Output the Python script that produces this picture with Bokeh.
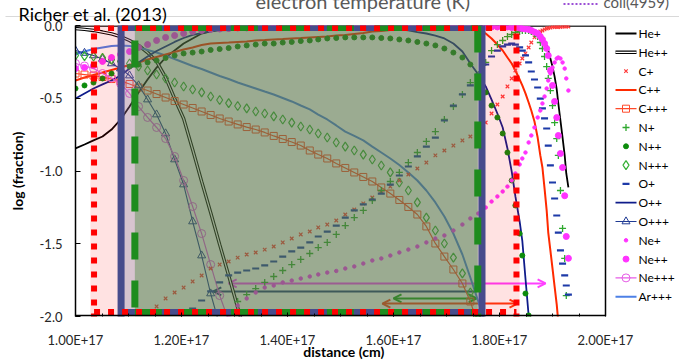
import math, sys
from bokeh.plotting import figure
from bokeh.models import (Range1d, FixedTicker, CustomJSTickFormatter, Arrow, OpenHead,
                          ColumnDataSource)
from bokeh.core.properties import value
from bokeh.embed import file_html
from bokeh.resources import INLINE

nan = float("nan")
FONT = "Lato"

# ---------------- data ----------------
# model zones: distance in units of 1e17 cm
distance_1e17 = [
    1.000, 1.017, 1.034, 1.051, 1.068, 1.085, 1.102, 1.119, 1.136, 1.153,
    1.170, 1.187, 1.204, 1.221, 1.238, 1.255, 1.272, 1.289, 1.306, 1.323,
    1.340, 1.357, 1.374, 1.391, 1.408, 1.425, 1.442, 1.458, 1.475, 1.492,
    1.509, 1.526, 1.543, 1.560, 1.577, 1.594, 1.611, 1.628, 1.645, 1.662,
    1.679, 1.696, 1.713, 1.730, 1.745,
    1.760, 1.774, 1.785, 1.796, 1.806, 1.815, 1.823, 1.830, 1.838, 1.843,
    1.849, 1.855, 1.860, 1.866, 1.872, 1.877, 1.881, 1.885, 1.889, 1.892,
    1.896, 1.900, 1.904, 1.908, 1.911, 1.915, 1.919, 1.923, 1.926, 1.930,
]

he_1 = [
    -0.845, -0.818, -0.790, -0.763, -0.715, -0.646, -0.557, -0.460, -0.371, -0.289,
    -0.220, -0.172, -0.124, -0.089, -0.055, -0.041, -0.027, -0.021, -0.021, -0.021,
    -0.017, -0.014, -0.014, -0.014, -0.014, -0.014, -0.014, -0.014, -0.014, -0.014,
    -0.014, -0.010, -0.010, -0.010, -0.010, -0.010, -0.010, -0.010, -0.010, -0.010,
    -0.010, -0.010, -0.010, -0.010, -0.010,
    -0.007, -0.007, -0.007, -0.007, -0.007, -0.007, -0.010, -0.014, -0.014, -0.021,
    -0.024, -0.027, -0.034, -0.041, -0.055, -0.076, -0.096, -0.117, -0.137, -0.172,
    -0.227, -0.282, -0.351, -0.440, -0.536, -0.653, -0.770, -0.893, -1.017, -1.113,
]
he_2 = [
    -0.021, -0.027, -0.034, -0.045, -0.058, -0.076, -0.103, -0.137, -0.186, -0.247,
    -0.357, -0.502, -0.639, -0.852, -1.072, -1.285, -1.505, -1.718, -1.938, -2.151,
] + [nan] * 55
c_1 = [
    nan, nan, nan, nan, nan, nan, nan, nan, -2.034, -1.931,
    -1.876, -1.835, -1.801, -1.759, -1.718, -1.670, -1.643, -1.622, -1.595, -1.574,
    -1.560, -1.540, -1.519, -1.491, -1.464, -1.436, -1.416, -1.388, -1.368, -1.340,
    -1.299, -1.265, -1.223, -1.182, -1.141, -1.107, -1.065, -1.024, -0.983, -0.942,
    -0.893, -0.859, -0.825, -0.790, -0.763,
    -0.715, -0.667, -0.605, -0.543, -0.488, -0.419, -0.364, -0.309, -0.261, -0.227,
    -0.192, -0.151, -0.117, -0.082, -0.062, -0.041, -0.034, -0.027, -0.021, -0.017,
    -0.014, -0.010, -0.010, -0.010, -0.010, -0.010, -0.007, -0.007, -0.007, -0.007,
]
c_2 = [
    -0.378, -0.357, -0.340, -0.323, -0.306, -0.289, -0.271, -0.254, -0.234, -0.216,
    -0.199, -0.182, -0.165, -0.151, -0.134, -0.124, -0.120, -0.117, -0.113, -0.110,
    -0.103, -0.100, -0.096, -0.093, -0.089, -0.086, -0.082, -0.079, -0.076, -0.069,
    -0.065, -0.058, -0.052, -0.041, -0.038, -0.031, -0.024, -0.021, -0.017, -0.014,
    -0.014, -0.014, -0.010, -0.010, -0.014,
    -0.027, -0.055, -0.089, -0.131, -0.172, -0.220, -0.261, -0.309, -0.371, -0.412,
    -0.467, -0.529, -0.584, -0.660, -0.770, -0.893, -0.976, -1.120, -1.271, -1.423,
    -1.546, -1.670, -1.794, -1.918, -2.041, nan, nan, nan, nan, nan,
]
c_3 = [
    -0.330, -0.337, -0.344, -0.354, -0.368, -0.381, -0.402, -0.426, -0.447, -0.471,
    -0.495, -0.519, -0.543, -0.567, -0.591, -0.615, -0.639, -0.660, -0.680, -0.698,
    -0.715, -0.735, -0.759, -0.780, -0.801, -0.825, -0.859, -0.887, -0.914, -0.948,
    -0.979, -1.010, -1.041, -1.072, -1.113, -1.155, -1.199, -1.247, -1.299, -1.381,
    -1.498, -1.588, -1.677, -1.773, -1.897,
    -2.062,
] + [nan] * 29
n_1 = [nan] * 18 + [
    -1.897, -1.849,
    -1.808, -1.766, -1.725, -1.684, -1.643, -1.608, -1.567, -1.526, -1.491, -1.436,
    -1.375, -1.320, -1.271, -1.203, -1.134, -1.072, -1.010, -0.942, -0.873, -0.797,
    -0.729, -0.646, -0.557, -0.474, -0.392,
    -0.337, -0.254, -0.172, -0.131, -0.103, -0.076, -0.062, -0.048, -0.041, -0.034,
    -0.034, -0.034, -0.041, -0.055, -0.076, -0.117, -0.158, -0.213, -0.282, -0.364,
    -0.447, -0.550, -0.667, -0.777, -0.893, -1.134, -1.395, -1.601, -1.856, -2.027,
]
n_2 = [
    -0.433, -0.412, -0.392, -0.364, -0.330, -0.302, -0.282, -0.268, -0.254, -0.241,
    -0.223, -0.206, -0.192, -0.186, -0.179, -0.168, -0.162, -0.155, -0.144, -0.137,
    -0.131, -0.124, -0.124, -0.117, -0.113, -0.107, -0.103, -0.096, -0.089, -0.086,
    -0.082, -0.082, -0.082, -0.082, -0.086, -0.089, -0.096, -0.103, -0.113, -0.124,
    -0.137, -0.158, -0.186, -0.220, -0.268,
    -0.344, -0.460, -0.550, -0.632, -0.742, -0.873, -1.065, -1.237, -1.430, -1.581,
    -1.842, -1.993,
] + [nan] * 18
n_3 = [
    -0.206, -0.210, -0.213, -0.223, -0.234, -0.247, -0.261, -0.282, -0.309, -0.337,
    -0.364, -0.392, -0.419, -0.440, -0.460, -0.488, -0.512, -0.533, -0.553, -0.570,
    -0.591, -0.605, -0.625, -0.646, -0.667, -0.694, -0.715, -0.742, -0.770, -0.804,
    -0.832, -0.859, -0.887, -0.921, -0.962, -1.010, -1.079, -1.134, -1.216, -1.320,
    -1.409, -1.498, -1.595, -1.704, -1.835,
    -2.014,
] + [nan] * 29
o_1 = [nan] * 13 + [
    -1.945, -1.890, -1.828, -1.766, -1.718, -1.698, -1.684,
    -1.670, -1.649, -1.622, -1.588, -1.553, -1.526, -1.491, -1.450, -1.416, -1.375,
    -1.320, -1.271, -1.230, -1.196, -1.155, -1.093, -1.031, -0.969, -0.900, -0.832,
    -0.770, -0.653, -0.550, -0.474, -0.412,
    -0.337, -0.268, -0.213, -0.172, -0.144, -0.131, -0.124, -0.131, -0.151, -0.172,
    -0.206, -0.254, -0.316, -0.371, -0.426, -0.502, -0.570, -0.639, -0.708, -0.825,
    -0.962, -1.079, -1.189, -1.306, -1.423, -1.546, -1.636, -1.718, -1.787, -1.849,
]
o_2 = [
    -0.502, -0.467, -0.433, -0.405, -0.378, -0.344, -0.296, -0.254, -0.213, -0.175,
    -0.144, -0.113, -0.086, -0.065, -0.052, -0.041, -0.034, -0.031, -0.027, -0.024,
    -0.024, -0.024, -0.024, -0.024, -0.024, -0.024, -0.024, -0.024, -0.024, -0.024,
    -0.024, -0.024, -0.024, -0.024, -0.024, -0.024, -0.027, -0.034, -0.045, -0.055,
    -0.069, -0.089, -0.124, -0.179, -0.261,
    -0.337, -0.419, -0.509, -0.605, -0.701, -0.845, -1.003, -1.175, -1.347, -1.478,
    -1.739, -1.993,
] + [nan] * 18
o_3 = [
    -0.172, -0.189, -0.206, -0.230, -0.261, -0.296, -0.344, -0.412, -0.509, -0.612,
    -0.742, -0.921, -1.093, -1.347, -1.581, -1.842, -2.062,
] + [nan] * 58
ne_1 = [nan] * 17 + [
    -1.973, -1.924, -1.876,
    -1.835, -1.801, -1.787, -1.766, -1.753, -1.739, -1.725, -1.711, -1.698, -1.687,
    -1.670, -1.656, -1.636, -1.615, -1.601, -1.581, -1.560, -1.540, -1.519, -1.491,
    -1.464, -1.443, -1.409, -1.368, -1.326,
    -1.292, -1.251, -1.210, -1.175, -1.141, -1.107, -1.065, -1.017, -0.955, -0.914,
    -0.873, -0.804, -0.756, -0.701, -0.632, -0.584, -0.536, -0.488, -0.433, -0.378,
    -0.330, -0.289, -0.254, -0.227, -0.220, -0.227, -0.254, -0.296, -0.364, -0.447,
]
ne_2 = [
    -0.296, -0.289, -0.275, -0.247, -0.220, -0.199, -0.179, -0.151, -0.131, -0.103,
    -0.082, -0.069, -0.055, -0.041, -0.034, -0.027, -0.024, -0.021, -0.017, -0.017,
    -0.014, -0.014, -0.014, -0.014, -0.014, -0.014, -0.014, -0.014, -0.014, -0.014,
    -0.010, -0.010, -0.010, -0.010, -0.010, -0.010, -0.010, -0.010, -0.010, -0.010,
    -0.010, -0.010, -0.010, -0.010, -0.010,
    -0.010, -0.010, -0.010, -0.010, -0.010, -0.010, -0.014, -0.014, -0.017, -0.021,
    -0.024, -0.027, -0.034, -0.045, -0.055, -0.076, -0.096, -0.124, -0.158, -0.206,
    -0.309, -0.412, -0.522, -0.633, -0.756, -0.880, -0.976, -1.170, -1.450, -1.600,
]
ne_3 = [
    -0.261, -0.278, -0.296, -0.330, -0.361, -0.399, -0.467, -0.557, -0.632, -0.701,
    -0.777, -0.900, -1.065, -1.244, -1.430, -1.643, -1.856, -2.027,
] + [nan] * 57
ar_3 = [
    -0.199, -0.179, -0.162, -0.151, -0.141, -0.137, -0.141, -0.151, -0.168, -0.186,
    -0.206, -0.230, -0.254, -0.278, -0.299, -0.323, -0.347, -0.368, -0.392, -0.412,
    -0.433, -0.454, -0.474, -0.498, -0.522, -0.550, -0.577, -0.612, -0.646, -0.687,
    -0.729, -0.759, -0.790, -0.832, -0.873, -0.914, -0.959, -1.010, -1.065, -1.134,
    -1.216, -1.313, -1.430, -1.574, -1.732,
    -1.897, -2.062,
] + [nan] * 28

species_labels = ["He+", "He++", "C+", "C++", "C+++", "N+", "N++", "N+++",
                  "O+", "O++", "O+++", "Ne+", "Ne++", "Ne+++", "Ar+++"]
x_ticks_1e17 = [1.0, 1.2, 1.4, 1.6, 1.8, 2.0]
y_ticks = [-2.0, -1.5, -1.0, -0.5, 0.0]
x_axis_end_1e17 = 2.0

# zone boundaries marked on the chart (distance in 1e17 cm)
red_zone = (1.035, 1.832)
blue_zone = (1.086, 1.767)
green_zone = (1.112, 1.759)
pink_fill = (1.028, 1.838)
# arrows: (start, end, log level)
arrow_magenta = (1.289, 1.887, -1.773)
arrow_navy = (1.260, 1.757, -1.828)
arrow_green = (1.600, 1.757, -1.876)
arrow_red = (1.579, 1.834, -1.911)

# ---------------- figure ----------------
N = len(distance_1e17)
def fit(name, a):
    if len(a) != N:
        print(f"warning: {name} has {len(a)} values, expected {N}", file=sys.stderr)
    return (list(a) + [nan] * N)[:N]

E17 = 1e17
# page-pixel helpers for decorations outside the data area
def X(px):
    return (1.0 + (px - 75) / 530.0) * E17
def Y(py):
    return -(py - 25) / 145.5

src = ColumnDataSource(dict(
    x=[d * E17 for d in distance_1e17],
    he1=fit("he1", he_1), he2=fit("he2", he_2),
    c1=fit("c1", c_1), c2=fit("c2", c_2), c3=fit("c3", c_3),
    n1=fit("n1", n_1), n2=fit("n2", n_2), n3=fit("n3", n_3),
    o1=fit("o1", o_1), o2=fit("o2", o_2), o3=fit("o3", o_3),
    ne1=fit("ne1", ne_1), ne2=fit("ne2", ne_2), ne3=fit("ne3", ne_3),
    ar3=fit("ar3", ar_3),
))

# the frame runs to the right edge so that the legend area is part of it
p = figure(width=679, height=360, output_backend="svg", toolbar_location=None,
           x_range=Range1d(1.0 * E17, X(679)), y_range=Range1d(-2.0, 0.0),
           min_border_left=75, min_border_right=0, min_border_top=25, min_border_bottom=44)
p.background_fill_color = "white"
p.border_fill_color = "white"
p.outline_line_color = None
p.xgrid.visible = False
p.ygrid.visible = False
XE = x_axis_end_1e17 * E17

# arrows (under the shaded overlays)
def arrow(spec, color, head_start, head_end):
    x0, x1, y = spec
    a = Arrow(x_start=x0 * E17, y_start=y, x_end=x1 * E17, y_end=y,
              start=OpenHead(size=8, line_color=color, line_width=2) if head_start else None,
              end=OpenHead(size=8, line_color=color, line_width=2) if head_end else None,
              line_color=color, line_width=2, level="underlay")
    p.add_layout(a)

arrow(arrow_magenta, "#ff40ff", True, True)
arrow(arrow_navy, "#1f3a7a", True, False)
arrow(arrow_green, "#10a010", True, True)
arrow(arrow_red, "#ff3a10", True, True)

# plot-area border: top and right
p.segment(x0=[1.0 * E17, XE], y0=[Y(25.6), 0.0], x1=[XE, XE], y1=[Y(25.6), -2.0],
          line_color="black", line_width=1.5)

# styles of each species: list of ("line"|"marker", kwargs)
S = {
    "He+":   [("line", dict(line_color="black", line_width=1.8))],
    "He++":  [("line", dict(line_color="black", line_width=3.4)),
              ("line", dict(line_color="white", line_width=1.2))],
    "C+":    [("marker", dict(marker="x", size=5, line_color="#ff3b3b", line_width=1.2))],
    "C++":   [("line", dict(line_color="#ff2a00", line_width=2))],
    "C+++":  [("line", dict(line_color="#ff4a2a", line_width=1.2)),
              ("marker", dict(marker="square", size=7, fill_color=None, line_color="#ff4a2a", line_width=1))],
    "N+":    [("marker", dict(marker="cross", size=7, line_color="#2fa82f", line_width=1.3))],
    "N++":   [("marker", dict(marker="circle", size=5, fill_color="#0c8c0c", line_color="#0c8c0c"))],
    "N+++":  [("marker", dict(marker="diamond", size=9, fill_color=None, line_color="#34b034", line_width=1.2))],
    "O+":    [("marker", dict(marker="dash", size=7, line_color="#1d3aa8", line_width=2.2))],
    "O++":   [("line", dict(line_color="#0f1c8a", line_width=1.8))],
    "O+++":  [("line", dict(line_color="#1f3a93", line_width=1.1)),
              ("marker", dict(marker="triangle", size=8, fill_color=None, line_color="#1f3a93", line_width=1))],
    "Ne+":   [("marker", dict(marker="circle", size=3.5, fill_color="#ff33ff", line_color="#ff33ff"))],
    "Ne++":  [("marker", dict(marker="circle", size=6, fill_color="#ff33ff", line_color="#ff33ff"))],
    "Ne+++": [("line", dict(line_color="#e65ce6", line_width=1.2)),
              ("marker", dict(marker="circle", size=8, fill_color=None, line_color="#e65ce6", line_width=1))],
    "Ar+++": [("line", dict(line_color="#4d80e6", line_width=2))],
}
column = {"He+": "he1", "He++": "he2", "C+": "c1", "C++": "c2", "C+++": "c3",
          "N+": "n1", "N++": "n2", "N+++": "n3", "O+": "o1", "O++": "o2", "O+++": "o3",
          "Ne+": "ne1", "Ne++": "ne2", "Ne+++": "ne3", "Ar+++": "ar3"}
draw_order = ["He+", "He++", "Ar+++", "C++", "C+++", "O++", "O+++", "Ne+++", "N+++",
              "N++", "C+", "N+", "O+", "Ne+", "Ne++"]

for name in draw_order:
    col = column[name]
    for kind, kw in S[name]:
        if kind == "line":
            p.line("x", col, source=src, **kw)
        else:
            p.scatter("x", col, source=src, **kw)

# shaded zones (semi-transparent, on top of the curves)
p.quad(left=[pink_fill[0] * E17], right=[pink_fill[1] * E17], top=[0.0], bottom=[-2.0],
       fill_color="#ff0000", fill_alpha=0.115, line_color=None)
p.quad(left=[blue_zone[0] * E17], right=[blue_zone[1] * E17], top=[0.0], bottom=[-2.0],
       fill_color="#7a7ea3", fill_alpha=0.30, line_color=None)
p.quad(left=[green_zone[0] * E17], right=[green_zone[1] * E17], top=[0.0], bottom=[-2.0],
       fill_color="#247c16", fill_alpha=0.335, line_color=None)

top_edge, bottom_edge = Y(27.5), Y(311.5)
# blue solid box
bx0, bx1 = blue_zone[0] * E17, blue_zone[1] * E17
p.segment(x0=[bx0, bx1], y0=[0.02, 0.02], x1=[bx0, bx1], y1=[-2.02, -2.02],
          line_color="#474c8c", line_width=7)
p.segment(x0=[bx0, bx0], y0=[top_edge, bottom_edge], x1=[bx1, bx1], y1=[top_edge, bottom_edge],
          line_color="#474c8c", line_width=6)
# green dashed box
gx0, gx1 = green_zone[0] * E17, green_zone[1] * E17
p.segment(x0=[gx0], y0=[0.0], x1=[gx0], y1=[-2.02], line_color="#1e8c1e", line_width=7,
          line_dash="27 21", line_dash_offset=33)
p.segment(x0=[gx1], y0=[0.0], x1=[gx1], y1=[-2.02], line_color="#1e8c1e", line_width=7,
          line_dash="27 21", line_dash_offset=0)
p.segment(x0=[gx0, gx0], y0=[top_edge, bottom_edge], x1=[gx1, gx1], y1=[top_edge, bottom_edge],
          line_color="#1e8c1e", line_width=6, line_dash="27 21")
# red dotted box
rx0, rx1 = red_zone[0] * E17, red_zone[1] * E17
p.segment(x0=[rx0, rx1], y0=[0.0, 0.0], x1=[rx0, rx1], y1=[-2.02, -2.02],
          line_color="#ff0000", line_width=6, line_dash="6 8", line_dash_offset=6)
p.segment(x0=[rx0, rx0], y0=[top_edge, bottom_edge], x1=[rx1, rx1], y1=[top_edge, bottom_edge],
          line_color="#ff0000", line_width=6, line_dash="6 8")

# bottom axis line, only under the data range
p.segment(x0=[1.0 * E17], y0=[Y(315.2)], x1=[XE], y1=[Y(315.2)], line_color="black", line_width=1.8)

# axes
p.xaxis.ticker = FixedTicker(ticks=[t * E17 for t in x_ticks_1e17],
                             minor_ticks=[(1.0 + 0.05 * i) * E17 for i in range(1, 20)])
p.xaxis.formatter = CustomJSTickFormatter(code="return tick.toExponential(2).toUpperCase();")
p.yaxis.ticker = FixedTicker(ticks=y_ticks)
p.yaxis.formatter = CustomJSTickFormatter(code="return tick.toFixed(1);")
for ax in (p.xaxis[0], p.yaxis[0]):
    ax.axis_line_color = "black"
    ax.axis_line_width = 1.5
    ax.major_tick_line_color = "black"
    ax.major_tick_out = 0
    ax.major_label_text_font = FONT
    ax.major_label_text_font_size = "13px"
    ax.major_label_text_color = "#262626"
    ax.axis_label_text_font = FONT
    ax.axis_label_text_font_size = "14px"
    ax.axis_label_text_font_style = "bold"
    ax.axis_label_text_color = "black"
p.xaxis.axis_line_color = None
p.xaxis.major_tick_in = 4
p.xaxis.minor_tick_in = 3
p.xaxis.minor_tick_out = 0
p.xaxis.minor_tick_line_color = "black"
p.xaxis.major_label_standoff = 15
p.yaxis.major_tick_in = 5
p.yaxis.minor_tick_line_color = None
p.yaxis.major_label_standoff = 13
p.yaxis.axis_label = "log (fraction)"
p.yaxis.axis_label_standoff = 11

# legend, beside the data range
LEG_X0, LEG_X1, LEG_TXT, LEG_Y0, LEG_DY = 615, 636, 638, 33, 18.8
for i, name in enumerate(species_labels):
    py = LEG_Y0 + LEG_DY * i
    for kind, kw in S[name]:
        if kind == "line":
            p.segment(x0=[X(LEG_X0)], y0=[Y(py)], x1=[X(LEG_X1)], y1=[Y(py)], **kw)
        else:
            p.scatter(x=[X((LEG_X0 + LEG_X1) / 2)], y=[Y(py)], **kw)
    p.text(x=[X(LEG_TXT)], y=[Y(py)], text=[name], text_font=value(FONT), text_font_size="12px",
           text_color="black", text_align="left", text_baseline="middle", level="overlay")

# texts and page decorations outside the plot area (overlay level: not clipped)
def txt(text, px, py, size, color="black", baseline="middle", align="left", bold=False):
    p.text(x=[X(px)], y=[Y(py)], text=[text], text_font=value(FONT),
           text_font_size=f"{size}px", text_color=color, text_align=align,
           text_baseline=baseline, text_font_style="bold" if bold else "normal",
           level="overlay")

p.segment(x0=[X(5)], y0=[Y(16)], x1=[X(679)], y1=[Y(16)], line_color="#d9d9d9",
          line_width=1, level="overlay")
p.segment(x0=[X(563)], y0=[Y(3.5)], x1=[X(597)], y1=[Y(3.5)], line_color="#9b4fd6",
          line_width=2, line_dash="2 2", level="overlay")
txt("electron temperature   (K)", 255, 12, 20, color="#595959", baseline="bottom")
txt("coll(4959)", 603, 10, 15, color="#595959", baseline="bottom")
txt("Richer et al. (2013)", 18, 13, 18)
txt("distance  (cm)", 345, 351, 14, align="center", bold=True)

open("out.html", "w").write(file_html(p, INLINE))
